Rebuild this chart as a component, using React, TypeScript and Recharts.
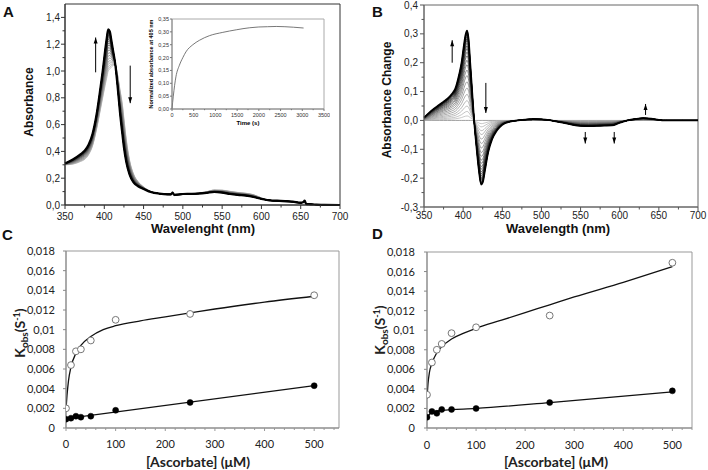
import React from 'react';
import { ComposedChart, LineChart, Line, XAxis, YAxis, Scatter, ReferenceArea, ReferenceLine, ReferenceDot } from 'recharts';

// ---------- Panel A / B : spectra ----------
const wavelengths = [350,360,370,375,380,385,390,395,398,401,403,405,407,409,411,414,417,420,423,425,428,432,437,443,450,460,470,480,485,487,489,500,510,520,530,540,550,560,570,580,590,600,610,620,630,640,650,653,655,657,660,670,680,700];
const finalAbsorbance = [0.31,0.34,0.38,0.405,0.45,0.53,0.67,0.87,1.0,1.15,1.24,1.31,1.295,1.23,1.16,1.05,0.88,0.69,0.53,0.43,0.32,0.23,0.17,0.14,0.12,0.095,0.085,0.08,0.08,0.093,0.076,0.082,0.083,0.085,0.09,0.097,0.092,0.082,0.075,0.07,0.06,0.045,0.035,0.032,0.03,0.025,0.017,0.02,0.032,0.008,0.006,0.003,0.001,0.0];
const absorbanceChange = [0.01,0.035,0.055,0.065,0.075,0.09,0.11,0.16,0.2,0.26,0.295,0.311,0.28,0.2,0.12,0.0,-0.09,-0.17,-0.222,-0.215,-0.17,-0.11,-0.065,-0.035,-0.015,-0.004,0.0,0.003,0.004,0.004,0.005,0.004,0.001,-0.004,-0.009,-0.015,-0.019,-0.02,-0.019,-0.018,-0.017,-0.008,0.0,0.005,0.008,0.006,0.002,0.001,0.0,0.0,0.0,0.0,0.0,0.0];
const progressFractions = [0,0.05,0.1,0.16,0.22,0.29,0.36,0.43,0.5,0.56,0.62,0.67,0.72,0.76,0.8,0.83,0.86,0.89,0.91,0.93,0.95,0.965,0.975,0.985,0.993,1];

const arrowsA = [{ x: 389, from: 0.99, to: 1.25 }, { x: 433, from: 1.04, to: 0.76 }];
const arrowsB = [
  { x: 386, from: 0.2, to: 0.278 },
  { x: 429, from: 0.13, to: 0.026 },
  { x: 556, from: -0.04, to: -0.08 },
  { x: 593, from: -0.04, to: -0.08 },
  { x: 633, from: 0.019, to: 0.057 },
];

const wlTicks = [350,375,400,425,450,475,500,525,550,575,600,625,650,675,700];
const wlMajor = [350,400,450,500,550,600,650,700];
const absTicks = [0,0.1,0.2,0.3,0.4,0.5,0.6,0.7,0.8,0.9,1.0,1.1,1.2,1.3,1.4];
const absMajor = [0,0.2,0.4,0.6,0.8,1.0,1.2,1.4];
const dAbsTicks = [-0.3,-0.25,-0.2,-0.15,-0.1,-0.05,0,0.05,0.1,0.15,0.2,0.25,0.3,0.35,0.4];
const dAbsMajor = [-0.3,-0.2,-0.1,0,0.1,0.2,0.3,0.4];

// ---------- inset ----------
const timeS = [0,30,90,170,250,320,480,630,860,1170,1480,1790,2000,2200,2400,2600,2800,3030];
const normAbs405 = [0,0.05,0.125,0.17,0.2,0.222,0.25,0.267,0.285,0.298,0.308,0.316,0.319,0.32,0.321,0.32,0.318,0.315];
const timeTicks = [0,250,500,750,1000,1250,1500,1750,2000,2250,2500,2750,3000,3250,3500];
const timeMajor = [0,500,1000,1500,2000,2500,3000,3500];
const normTicks = [0,0.05,0.1,0.15,0.2,0.25,0.3,0.35];

// ---------- Panel C ----------
const ascorbate = [0,10,20,30,50,100,250,500];
const kobsOpenC = [0.002,0.0064,0.0078,0.008,0.0089,0.011,0.0116,0.0135];
const kobsFilledC = [0.0009,0.001,0.0012,0.0011,0.0012,0.0018,0.0026,0.0043];
const fitXC = [0,2,5,10,20,30,50,75,100,150,200,250,300,400,500];
const fitOpenC = [0.0019,0.0033,0.0048,0.0062,0.0076,0.0084,0.0093,0.01,0.0104,0.0109,0.0113,0.0117,0.0121,0.0128,0.0134];
const fitFilledXC = [0,500];
const fitFilledC = [0.00095,0.0043];

// ---------- Panel D ----------
const kobsOpenD = [0.0034,0.0067,0.008,0.0086,0.0097,0.0103,0.0115,0.0169];
const kobsFilledD = [0.0011,0.0017,0.0015,0.0019,0.0019,0.002,0.0026,0.0038];
const fitXD = [0,2,5,10,20,30,50,75,100,150,200,250,300,400,500];
const fitOpenD = [0.003,0.0045,0.0057,0.0066,0.0077,0.0083,0.0091,0.0097,0.0102,0.011,0.0118,0.0126,0.0134,0.0149,0.0165];
const fitFilledXD = [0,10,30,100,250,500];
const fitFilledD = [0.0011,0.0016,0.0018,0.002,0.0026,0.0037];

const ascTicks = [0,20,40,60,80,100,120,140,160,180,200,220,240,260,280,300,320,340,360,380,400,420,440,460,480,500,520,540];
const ascMajor = [0,100,200,300,400,500];
const kobsTicks = [0,0.002,0.004,0.006,0.008,0.01,0.012,0.014,0.016,0.018];

// ---------- helpers ----------
const ARIAL = 'Liberation Sans, Arial, sans-serif';
const LATO = 'Lato, Carlito, sans-serif';

const spectraRows = wavelengths.map((wl, i) => {
  const row: Record<string, number> = { wl };
  progressFractions.forEach((f, k) => {
    row['a' + k] = finalAbsorbance[i] - (1 - f) * absorbanceChange[i];
    row['b' + k] = f * absorbanceChange[i];
  });
  return row;
});

const pairs = (xs: number[], ys: number[]) => xs.map((x, i) => ({ x, y: ys[i] }));

const shade = (f: number) => {
  const g = Math.round(185 * Math.pow(1 - f, 0.85));
  const h = g.toString(16).padStart(2, '0');
  return '#' + h + h + h;
};

const comma = (d: number) => (v: number) => v.toFixed(d).replace('.', ',');
const excel = (v: number) => (v === 0 ? '0' : String(parseFloat(v.toPrecision(6))).replace('.', ','));

type TickOpts = {
  side: 'bottom' | 'left';
  majors: number[];
  fmt: (v: number) => string;
  majorLen: number;
  minorLen: number;
  labelOff: number;
  fontSize: number;
  fontFamily: string;
  color: string;
  lineColor: string;
};

function axisTick(o: TickOpts) {
  return (props: any) => {
    const { x, y, payload } = props;
    const v = Number(payload.value);
    const major = o.majors.some((m) => Math.abs(m - v) < 1e-9);
    const len = major ? o.majorLen : o.minorLen;
    if (o.side === 'bottom') {
      return (
        <g>
          {len > 0 && <line x1={x} y1={y} x2={x} y2={y + len} stroke={o.lineColor} strokeWidth={1} />}
          {major && (
            <text x={x} y={y + o.labelOff} textAnchor="middle" fontSize={o.fontSize} fontFamily={o.fontFamily} fill={o.color}>
              {o.fmt(v)}
            </text>
          )}
        </g>
      );
    }
    return (
      <g>
        {len > 0 && <line x1={x - len} y1={y} x2={x} y2={y} stroke={o.lineColor} strokeWidth={1} />}
        {major && (
          <text x={x - o.labelOff} y={y + o.fontSize * 0.36} textAnchor="end" fontSize={o.fontSize} fontFamily={o.fontFamily} fill={o.color}>
            {o.fmt(v)}
          </text>
        )}
      </g>
    );
  };
}

const arrowHead = (up: boolean) => (p: any) => {
  const { cx, cy } = p;
  const d = up
    ? `M${cx},${cy} L${cx - 2},${cy + 6} L${cx + 2},${cy + 6} Z`
    : `M${cx},${cy} L${cx - 2},${cy - 6} L${cx + 2},${cy - 6} Z`;
  return <path d={d} fill="#000" stroke="none" />;
};

function renderArrows(list: { x: number; from: number; to: number }[], tag: string) {
  const out: React.ReactNode[] = [];
  list.forEach((a, i) => {
    out.push(
      <ReferenceLine key={tag + 'l' + i} segment={[{ x: a.x, y: a.from }, { x: a.x, y: a.to }]} stroke="#000" strokeWidth={1} />
    );
    out.push(<ReferenceDot key={tag + 'd' + i} x={a.x} y={a.to} r={3} shape={arrowHead(a.to > a.from)} />);
  });
  return out;
}

const openDot = (p: any) => <circle cx={p.cx} cy={p.cy} r={3.4} fill="#fff" stroke="#777" strokeWidth={1} />;
const filledDot = (p: any) => <circle cx={p.cx} cy={p.cy} r={3} fill="#000" stroke="#000" strokeWidth={0.5} />;

function SpectraA() {
  return (
    <ComposedChart width={350} height={240} data={spectraRows} margin={{ top: 4, right: 10, left: 0, bottom: 0 }}>
      <XAxis
        dataKey="wl" type="number" domain={[350, 700]} ticks={wlTicks} interval={0} height={35}
        tickSize={0} tickMargin={0} tickLine={false} axisLine={{ stroke: '#333' }}
        tick={axisTick({ side: 'bottom', majors: wlMajor, fmt: (v) => String(v), majorLen: 4, minorLen: 2.5, labelOff: 15, fontSize: 10, fontFamily: ARIAL, color: '#222', lineColor: '#333' })}
      />
      <YAxis
        type="number" domain={[0, 1.5]} ticks={absTicks} interval={0} width={65}
        tickSize={0} tickMargin={0} tickLine={false} axisLine={{ stroke: '#333' }}
        tick={axisTick({ side: 'left', majors: absMajor, fmt: comma(1), majorLen: 4, minorLen: 2.5, labelOff: 5, fontSize: 10, fontFamily: ARIAL, color: '#222', lineColor: '#333' })}
      />
      {progressFractions.map((f, k) => (
        <Line key={'a' + k} dataKey={'a' + k} type="monotone" dot={false} isAnimationActive={false}
          stroke={shade(f)} strokeWidth={k === progressFractions.length - 1 ? 2.2 : 0.8} />
      ))}
      <ReferenceArea x1={350} x2={700} y1={0} y2={1.5} fill="none" stroke="#333" strokeWidth={1} />
      {renderArrows(arrowsA, 'A')}
    </ComposedChart>
  );
}

function SpectraB() {
  return (
    <ComposedChart width={358} height={240} data={spectraRows} margin={{ top: 5, right: 10, left: 0, bottom: 0 }}>
      <XAxis
        dataKey="wl" type="number" domain={[350, 700]} ticks={wlTicks} interval={0} height={33}
        tickSize={0} tickMargin={0} tickLine={false} axisLine={{ stroke: '#666' }}
        tick={axisTick({ side: 'bottom', majors: wlMajor, fmt: (v) => String(v), majorLen: 4, minorLen: 2.5, labelOff: 11.5, fontSize: 10, fontFamily: ARIAL, color: '#222', lineColor: '#555' })}
      />
      <YAxis
        type="number" domain={[-0.3, 0.4]} ticks={dAbsTicks} interval={0} width={74}
        tickSize={0} tickMargin={0} tickLine={false} axisLine={{ stroke: '#666' }}
        tick={axisTick({ side: 'left', majors: dAbsMajor, fmt: comma(1), majorLen: 4, minorLen: 2.5, labelOff: 6, fontSize: 10, fontFamily: ARIAL, color: '#222', lineColor: '#555' })}
      />
      {progressFractions.map((f, k) => (
        <Line key={'b' + k} dataKey={'b' + k} type="monotone" dot={false} isAnimationActive={false}
          stroke={k === 0 ? '#777' : shade(f)} strokeWidth={k === progressFractions.length - 1 ? 1.8 : 0.7} />
      ))}
      <ReferenceArea x1={350} x2={700} y1={-0.3} y2={0.4} fill="none" stroke="#666" strokeWidth={1} />
      {renderArrows(arrowsB, 'B')}
    </ComposedChart>
  );
}

function Inset() {
  return (
    <LineChart width={200} height={125} data={pairs(timeS, normAbs405)} margin={{ top: 9, right: 6, left: 0, bottom: 0 }}>
      <XAxis
        dataKey="x" type="number" domain={[0, 3500]} ticks={timeTicks} interval={0} height={26}
        tickSize={0} tickMargin={0} tickLine={false} axisLine={{ stroke: '#888' }}
        tick={axisTick({ side: 'bottom', majors: timeMajor, fmt: (v) => String(v), majorLen: 2, minorLen: 1.2, labelOff: 7.5, fontSize: 5.5, fontFamily: ARIAL, color: '#333', lineColor: '#777' })}
      />
      <YAxis
        type="number" domain={[0, 0.35]} ticks={normTicks} interval={0} width={42}
        tickSize={0} tickMargin={0} tickLine={false} axisLine={{ stroke: '#888' }}
        tick={axisTick({ side: 'left', majors: normTicks, fmt: comma(2), majorLen: 2, minorLen: 1.2, labelOff: 3, fontSize: 5.5, fontFamily: ARIAL, color: '#333', lineColor: '#777' })}
      />
      <Line dataKey="y" type="monotone" dot={false} isAnimationActive={false} stroke="#555" strokeWidth={0.8} />
      <ReferenceArea x1={0} x2={3500} y1={0} y2={0.35} fill="none" stroke="#aaa" strokeWidth={1} />
    </LineChart>
  );
}

function KineticsPanel(props: {
  width: number; yAxisWidth: number; right: number; top: number; xMax: number;
  open: number[]; filled: number[]; fitX: number[]; fitOpen: number[]; fitFX: number[]; fitF: number[];
  xLabelOff: number; yLabelOff: number;
}) {
  const p = props;
  return (
    <ComposedChart width={p.width} height={230} margin={{ top: p.top, right: p.right, left: 0, bottom: 0 }}>
      <XAxis
        dataKey="x" type="number" domain={[0, p.xMax]} ticks={ascTicks.filter((t) => t <= p.xMax)} interval={0} height={42}
        tickSize={0} tickMargin={0} tickLine={false} axisLine={{ stroke: '#888' }} allowDataOverflow
        tick={axisTick({ side: 'bottom', majors: ascMajor, fmt: (v) => String(v), majorLen: 3, minorLen: 2, labelOff: p.xLabelOff, fontSize: 11, fontFamily: LATO, color: '#222', lineColor: '#999' })}
      />
      <YAxis
        dataKey="y" type="number" domain={[0, 0.018]} ticks={kobsTicks} interval={0} width={p.yAxisWidth}
        tickSize={0} tickMargin={0} tickLine={false} axisLine={{ stroke: '#888' }}
        tick={axisTick({ side: 'left', majors: kobsTicks, fmt: excel, majorLen: 3, minorLen: 0, labelOff: p.yLabelOff, fontSize: 11, fontFamily: LATO, color: '#222', lineColor: '#888' })}
      />
      <ReferenceArea x1={0} x2={p.xMax} y1={0} y2={0.018} fill="none" stroke="#999" strokeWidth={1} />
      <Line data={pairs(p.fitX, p.fitOpen)} dataKey="y" type="monotone" dot={false} isAnimationActive={false} stroke="#111" strokeWidth={1.3} />
      <Line data={pairs(p.fitFX, p.fitF)} dataKey="y" type="monotone" dot={false} isAnimationActive={false} stroke="#111" strokeWidth={1.3} />
      <Scatter data={pairs(ascorbate, p.open)} dataKey="y" shape={openDot} isAnimationActive={false} />
      <Scatter data={pairs(ascorbate, p.filled)} dataKey="y" shape={filledDot} isAnimationActive={false} />
    </ComposedChart>
  );
}

function KobsLabel({ x, y }: { x: number; y: number }) {
  return (
    <text transform={`rotate(-90 ${x} ${y})`} x={x} y={y} textAnchor="middle" fontFamily={LATO} fontWeight="bold" fontSize={14} fill="#222">
      <tspan>K</tspan>
      <tspan dy={3} fontSize={10}>obs</tspan>
      <tspan dy={-3}>(S</tspan>
      <tspan dy={-5} fontSize={9}>-1</tspan>
      <tspan dy={5}>)</tspan>
    </text>
  );
}

export default function App() {
  return (
    <div style={{ position: 'absolute', left: 0, top: 0, width: 708, height: 470, background: '#fff', overflow: 'hidden' }}>
      <div style={{ position: 'absolute', left: 0, top: 0 }}><SpectraA /></div>
      <div style={{ position: 'absolute', left: 130, top: 10 }}><Inset /></div>
      <div style={{ position: 'absolute', left: 350, top: 0 }}><SpectraB /></div>
      <div style={{ position: 'absolute', left: 0, top: 240 }}>
        <KineticsPanel width={350} yAxisWidth={66} right={11} top={11} xMax={550}
          open={kobsOpenC} filled={kobsFilledC} fitX={fitXC} fitOpen={fitOpenC} fitFX={fitFilledXC} fitF={fitFilledC}
          xLabelOff={20} yLabelOff={11} />
      </div>
      <div style={{ position: 'absolute', left: 350, top: 240 }}>
        <KineticsPanel width={358} yAxisWidth={77} right={16} top={12} xMax={540}
          open={kobsOpenD} filled={kobsFilledD} fitX={fitXD} fitOpen={fitOpenD} fitFX={fitFilledXD} fitF={fitFilledD}
          xLabelOff={21} yLabelOff={12} />
      </div>
      <svg width={708} height={470} style={{ position: 'absolute', left: 0, top: 0, pointerEvents: 'none' }}>
        <text x={3} y={17} fontSize={15} fontFamily={ARIAL} fontWeight="bold" fill="#111">A</text>
        <text x={372} y={17} fontSize={15} fontFamily={ARIAL} fontWeight="bold" fill="#111">B</text>
        <text x={2} y={240} fontSize={15} fontFamily={ARIAL} fontWeight="bold" fill="#111">C</text>
        <text x={372} y={239} fontSize={15} fontFamily={ARIAL} fontWeight="bold" fill="#111">D</text>
        <text transform="rotate(-90 33 102)" x={33} y={102} textAnchor="middle" fontSize={12} fontFamily={ARIAL} fontWeight="bold" fill="#111">Absorbance</text>
        <text x={203} y={233} textAnchor="middle" fontSize={13} fontFamily={ARIAL} fontWeight="bold" fill="#111">Wavelenght (nm)</text>
        <text transform="rotate(-90 391 100)" x={391} y={100} textAnchor="middle" fontSize={12} fontFamily={ARIAL} fontWeight="bold" fill="#111">Absorbance Change</text>
        <text x={558} y={233} textAnchor="middle" fontSize={13} fontFamily={ARIAL} fontWeight="bold" fill="#111">Wavelength (nm)</text>
        <text transform="rotate(-90 153 64)" x={153} y={64} textAnchor="middle" fontSize={5.5} fontFamily={ARIAL} fontWeight="bold" fill="#000">Normalized absorbance at 405 nm</text>
        <text x={248} y={125} textAnchor="middle" fontSize={6} fontFamily={ARIAL} fontWeight="bold" fill="#000">Time (s)</text>
        <KobsLabel x={25} y={333} />
        <KobsLabel x={385} y={330} />
        <text x={198} y={467} textAnchor="middle" fontFamily={LATO} fontWeight="bold" fontSize={14} fill="#222">[Ascorbate] (μM)</text>
        <text x={556} y={467} textAnchor="middle" fontFamily={LATO} fontWeight="bold" fontSize={14} fill="#222">[Ascorbate] (μM)</text>
      </svg>
    </div>
  );
}
